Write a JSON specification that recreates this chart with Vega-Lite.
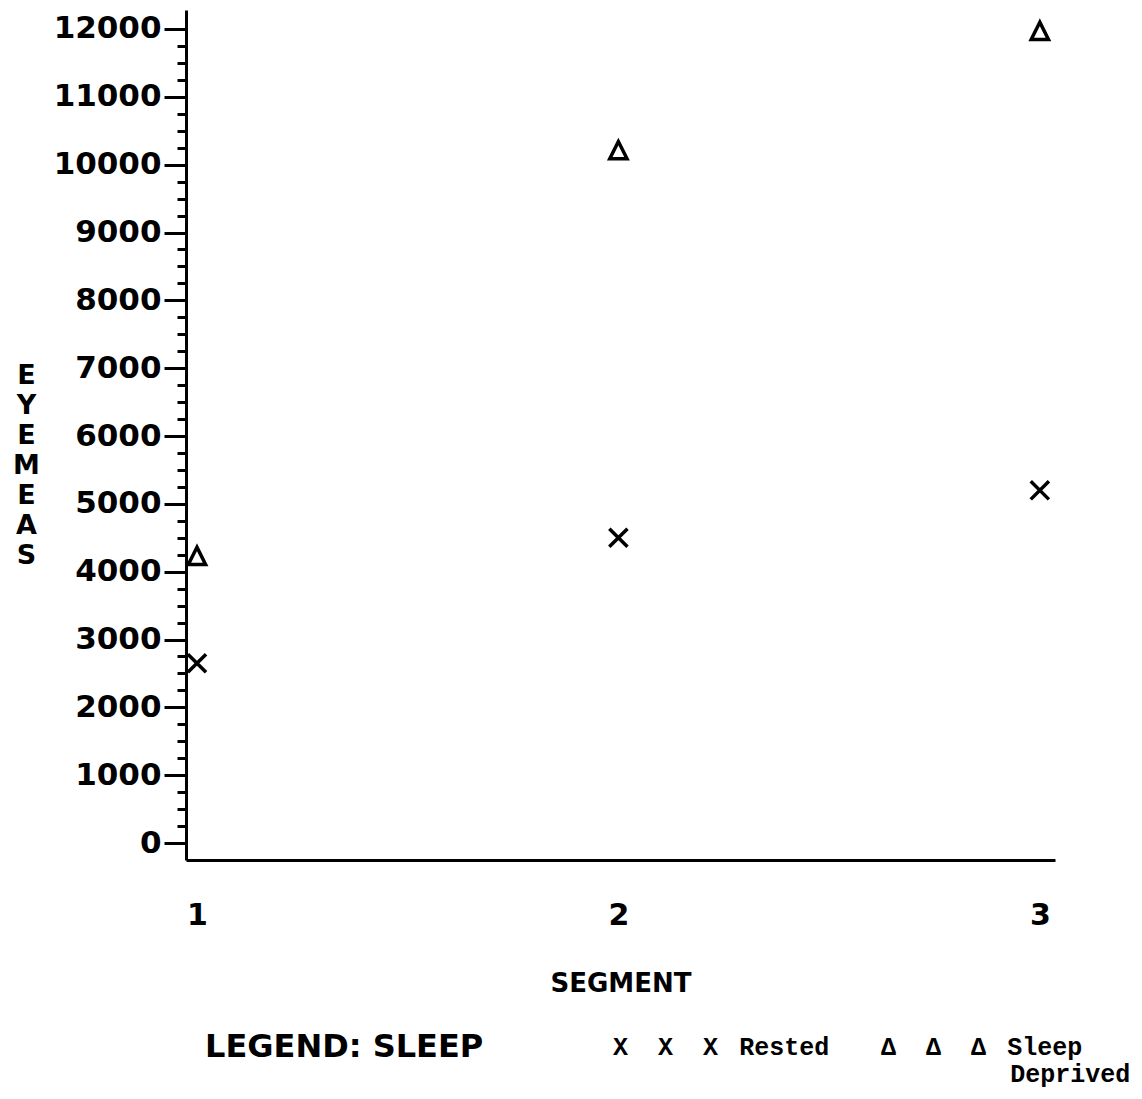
{
  "$schema": "https://vega.github.io/schema/vega-lite/v6.json",
  "autosize": "none",
  "width": 869,
  "height": 850,
  "padding": {"left": 186, "top": 10, "right": 87, "bottom": 239},
  "background": "white",
  "config": {"view": {"stroke": null}, "axisX": {"labelOverlap": false}},
  "data": {
    "values": [
      {"segment": 1, "eyemeas": 2650, "sleep": "Rested"},
      {"segment": 2, "eyemeas": 4500, "sleep": "Rested"},
      {"segment": 3, "eyemeas": 5200, "sleep": "Rested"},
      {"segment": 1, "eyemeas": 4220, "sleep": "Sleep Deprived"},
      {"segment": 2, "eyemeas": 10200, "sleep": "Sleep Deprived"},
      {"segment": 3, "eyemeas": 11960, "sleep": "Sleep Deprived"}
    ]
  },
  "mark": {"type": "point", "filled": false, "color": "black", "strokeWidth": 3.5, "opacity": 1, "size": 330},
  "encoding": {
    "x": {
      "field": "segment", "type": "quantitative",
      "scale": {"domain": [0.974, 3.036], "nice": false, "zero": false},
      "axis": {
        "values": [1, 2, 3], "grid": false, "ticks": false,
        "domainColor": "black", "domainWidth": 3,
        "labelExpr": "format(datum.value, 'd')",
        "labelFont": "DejaVu Sans", "labelFontWeight": "bold", "labelFontSize": 30, "labelColor": "black",
        "labelPadding": 40, "labelFlush": false, "labelOverlap": false, "labelSeparation": 0,
        "title": "SEGMENT", "titleFont": "DejaVu Sans", "titleFontWeight": "bold", "titleFontSize": 26, "titleColor": "black",
        "titlePadding": 40
      }
    },
    "y": {
      "field": "eyemeas", "type": "quantitative",
      "scale": {"domain": [-250, 12280], "nice": false, "zero": false},
      "axis": {
        "values": [0,250,500,750,1000,1250,1500,1750,2000,2250,2500,2750,3000,3250,3500,3750,4000,4250,4500,4750,5000,5250,5500,5750,6000,6250,6500,6750,7000,7250,7500,7750,8000,8250,8500,8750,9000,9250,9500,9750,10000,10250,10500,10750,11000,11250,11500,11750,12000],
        "format": "d",
        "labelExpr": "datum.value % 1000 === 0 ? datum.label : ''",
        "grid": false,
        "domainColor": "black", "domainWidth": 3,
        "tickColor": "black", "tickWidth": 3,
        "tickSize": {"condition": {"test": "datum.value % 1000 === 0", "value": 22}, "value": 9},
        "labelFont": "DejaVu Sans", "labelFontWeight": "bold", "labelFontSize": 31, "labelColor": "black",
        "labelPadding": 3, "labelFlush": false, "labelOverlap": false,
        "title": ["E", "Y", "E", "M", "E", "A", "S"],
        "titleAngle": 0, "titleAlign": "center", "titleBaseline": "top",
        "titleX": -160, "titleY": 352, "titleLineHeight": 30,
        "titleFont": "DejaVu Sans", "titleFontWeight": "bold", "titleFontSize": 27, "titleColor": "black"
      }
    },
    "shape": {
      "field": "sleep", "type": "nominal",
      "scale": {"domain": ["Rested", "Sleep Deprived"], "range": ["M-1,-1L1,1M-1,1L1,-1", "M0,-1.05L-0.95,0.85L0.95,0.85Z"]},
      "legend": {
        "orient": "none", "legendX": 19, "legendY": 1012, "direction": "horizontal",
        "title": "LEGEND: SLEEP", "titleLineHeight": 52, "titleOrient": "left", "titleAnchor": "start", "titleLimit": 0,
        "titleFont": "DejaVu Sans", "titleFontWeight": "bold", "titleFontSize": 32, "titleColor": "black", "titleBaseline": "line-top", "titlePadding": 104,
        "symbolOpacity": 0, "symbolSize": 0, "symbolStrokeWidth": 0,
        "labelOffset": 0, "columnPadding": 26,
        "labelFont": "Liberation Mono", "labelFontWeight": "bold", "labelFontSize": 25, "labelColor": "black", "labelBaseline": "top", "labelLimit": 0, "labelLineHeight": 26,
        "labelExpr": "datum.label == 'Rested' ? ['X\u00a0\u00a0X\u00a0\u00a0X\u00a0\u2005Rested', '\u2800'] : ['Δ\u00a0\u00a0Δ\u00a0\u00a0Δ\u00a0\u2005Sleep', '\u2800\u00a0\u00a0\u00a0\u00a0\u00a0\u00a0\u00a0\u2005Deprived']"
      }
    }
  }
}
